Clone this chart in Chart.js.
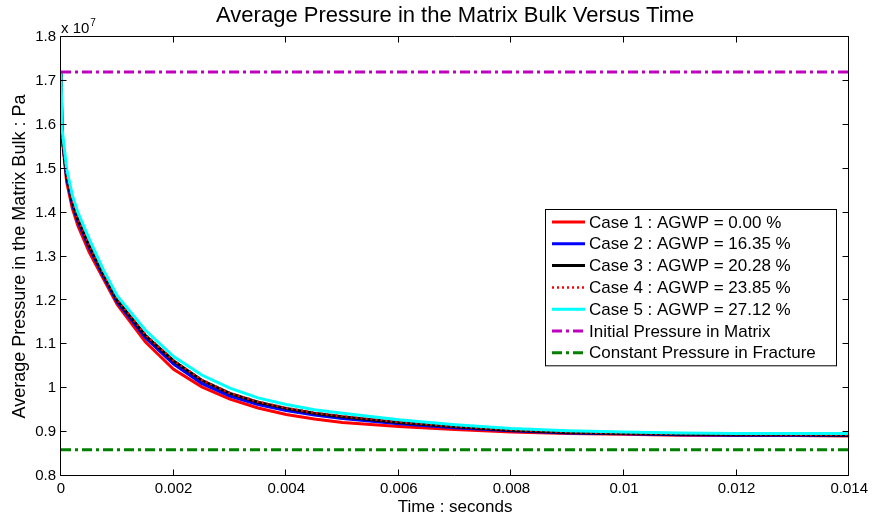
<!DOCTYPE html>
<html>
<head>
<meta charset="utf-8">
<script src="https://cdn.jsdelivr.net/npm/chart.js@4/dist/chart.umd.min.js"></script>
<style>
  html, body { margin: 0; padding: 0; background: #fff; }
  #box { width: 872px; height: 516px; }
</style>
</head>
<body>
<div id="box"><canvas id="grafico"></canvas></div>
<script>
// time in seconds, pressures in units of 10^7 Pa
const time = [0, 0.00002, 0.0001, 0.0002, 0.0003, 0.0005, 0.00075, 0.001, 0.0015, 0.002,
  0.0025, 0.003, 0.0035, 0.004, 0.0045, 0.005, 0.006, 0.007, 0.008, 0.009,
  0.01, 0.011, 0.012, 0.013, 0.014];

const case1 = [1.72, 1.57, 1.47, 1.41, 1.37, 1.31, 1.25, 1.19, 1.105, 1.043,
  1.003, 0.975, 0.955, 0.940, 0.930, 0.922, 0.913, 0.906, 0.900, 0.897,
  0.895, 0.893, 0.892, 0.892, 0.891];
const case2 = [1.72, 1.575, 1.48, 1.42, 1.38, 1.32, 1.256, 1.196, 1.115, 1.055,
  1.011, 0.982, 0.963, 0.949, 0.939, 0.931, 0.919, 0.910, 0.903, 0.898,
  0.896, 0.894, 0.893, 0.893, 0.892];
const case3 = [1.72, 1.575, 1.485, 1.425, 1.385, 1.325, 1.26, 1.20, 1.12, 1.062,
  1.018, 0.988, 0.968, 0.954, 0.943, 0.935, 0.922, 0.912, 0.904, 0.899,
  0.897, 0.895, 0.894, 0.894, 0.893];
const case4 = [1.72, 1.576, 1.487, 1.427, 1.387, 1.327, 1.262, 1.202, 1.122, 1.063,
  1.019, 0.989, 0.969, 0.955, 0.944, 0.936, 0.923, 0.913, 0.905, 0.900,
  0.897, 0.896, 0.895, 0.894, 0.894];
const case5 = [1.72, 1.59, 1.50, 1.44, 1.40, 1.34, 1.27, 1.21, 1.132, 1.072,
  1.03, 1.0, 0.978, 0.963, 0.951, 0.943, 0.928, 0.917, 0.908, 0.903,
  0.900, 0.898, 0.897, 0.897, 0.897];

const initialPressure = 1.72;
const fracturePressure = 0.86;

const labels = [
  "Case 1 : AGWP = 0.00 %",
  "Case 2 : AGWP = 16.35 %",
  "Case 3 : AGWP = 20.28 %",
  "Case 4 : AGWP = 23.85 %",
  "Case 5 : AGWP = 27.12 %",
  "Initial Pressure in Matrix",
  "Constant Pressure in Fracture"
];

const xTicks = [0, 0.002, 0.004, 0.006, 0.008, 0.01, 0.012, 0.014];
const yTicks = [0.8, 0.9, 1.0, 1.1, 1.2, 1.3, 1.4, 1.5, 1.6, 1.7, 1.8];

const FONT = "'Liberation Sans', Arial, Helvetica, sans-serif";
const DASH_DOT = [10, 4, 3, 4];

function serie(values) {
    return time.map((t, i) => ({ x: t, y: values[i] }));
}

function flat(value) {
    return [{ x: xTicks[0], y: value }, { x: xTicks[xTicks.length - 1], y: value }];
}

const styles = [
    { data: serie(case1), color: "#ff0000", width: 3, dash: [] },
    { data: serie(case2), color: "#0000ff", width: 3, dash: [] },
    { data: serie(case3), color: "#000000", width: 3, dash: [] },
    { data: serie(case4), color: "#ff0000", width: 2.5, dash: [2, 3] },
    { data: serie(case5), color: "#00ffff", width: 3, dash: [] },
    { data: flat(initialPressure), color: "#bf00bf", width: 3, dash: DASH_DOT },
    { data: flat(fracturePressure), color: "#008000", width: 3, dash: DASH_DOT }
];

const datasets = styles.map((s, i) => ({
    label: labels[i],
    data: s.data,
    borderColor: s.color,
    backgroundColor: s.color,
    borderWidth: s.width,
    borderDash: s.dash,
    pointRadius: 0,
    tension: 0,
    fill: false,
    order: styles.length - i   // later lines drawn on top
}));

// box around the axes with inward tick marks on all four sides
const frame = {
    id: "frame",
    afterDatasetsDraw(chart) {
        const { ctx, chartArea: a, scales } = chart;
        const L = Math.round(a.left) - 0.5, R = Math.round(a.right) - 0.5;
        const T = Math.round(a.top) - 0.5, B = Math.round(a.bottom) - 0.5;
        ctx.save();
        ctx.strokeStyle = "#000";
        ctx.lineWidth = 1;
        ctx.beginPath();
        ctx.rect(L, T, R - L, B - T);
        xTicks.forEach(v => {
            const px = Math.round(scales.x.getPixelForValue(v)) - 0.5;
            ctx.moveTo(px, B); ctx.lineTo(px, B - 6);
            ctx.moveTo(px, T); ctx.lineTo(px, T + 6);
        });
        yTicks.forEach(v => {
            const py = Math.round(scales.y.getPixelForValue(v)) - 0.5;
            ctx.moveTo(L, py); ctx.lineTo(L + 6, py);
            ctx.moveTo(R, py); ctx.lineTo(R - 6, py);
        });
        ctx.stroke();
        ctx.restore();
    },
    afterDraw(chart) {
        const { ctx, chartArea: a } = chart;
        ctx.save();
        ctx.fillStyle = "#000";

        // title
        ctx.font = "22px " + FONT;
        ctx.textAlign = "center";
        ctx.textBaseline = "middle";
        ctx.fillText("Average Pressure in the Matrix Bulk Versus Time", (a.left + a.right) / 2, 16);

        // axis titles
        ctx.font = "17px " + FONT;
        ctx.fillText("Time : seconds", (a.left + a.right) / 2, 507);
        ctx.save();
        ctx.font = "18px " + FONT;
        ctx.translate(20, (a.top + a.bottom) / 2);
        ctx.rotate(-Math.PI / 2);
        ctx.fillText("Average Pressure in the Matrix Bulk : Pa", 0, 0);
        ctx.restore();

        // exponent of the y axis
        ctx.textAlign = "left";
        ctx.textBaseline = "alphabetic";
        ctx.font = "15px " + FONT;
        ctx.fillText("x 10", a.left, 33);
        const w = ctx.measureText("x 10").width;
        ctx.font = "10px " + FONT;
        ctx.fillText("7", a.left + w + 1, 26);

        // legend
        const boxL = 545.5, boxR = 836.5, boxT = 209.5, row = 21.8;
        const boxB = boxT + 12.5 + row * (labels.length - 1) + 13;
        ctx.fillStyle = "#fff";
        ctx.fillRect(boxL, boxT, boxR - boxL, boxB - boxT);
        ctx.strokeStyle = "#000";
        ctx.lineWidth = 1;
        ctx.strokeRect(boxL, boxT, boxR - boxL, boxB - boxT);
        ctx.font = "17px " + FONT;
        ctx.textBaseline = "middle";
        chart.data.datasets.forEach((ds, i) => {
            const y = boxT + 12.5 + row * i;
            ctx.strokeStyle = ds.borderColor;
            ctx.lineWidth = ds.borderWidth;
            ctx.setLineDash(ds.borderDash);
            ctx.beginPath();
            ctx.moveTo(552, y);
            ctx.lineTo(585, y);
            ctx.stroke();
            ctx.setLineDash([]);
            ctx.fillStyle = "#000";
            ctx.fillText(ds.label, 589, y + 1);
        });
        ctx.restore();
    }
};

Chart.defaults.font.family = FONT;
Chart.defaults.color = "#000";

new Chart(document.getElementById("grafico"), {
    type: "line",
    data: { datasets },
    options: {
        responsive: true,
        maintainAspectRatio: false,
        animation: false,
        events: [],
        layout: { padding: { top: 37, right: 21, left: 0, bottom: 0 } },
        plugins: { legend: { display: false }, tooltip: { enabled: false } },
        scales: {
            x: {
                type: "linear",
                min: 0,
                max: 0.014,
                grid: { display: false, drawTicks: false },
                border: { display: false },
                afterBuildTicks: axis => { axis.ticks = xTicks.map(v => ({ value: v })); },
                afterFit: axis => { axis.height = 40; },
                ticks: {
                    padding: 4,
                    maxRotation: 0,
                    autoSkip: false,
                    font: { size: 15 },
                    callback: v => String(Number(v.toFixed(3)))
                }
            },
            y: {
                type: "linear",
                min: 0.8,
                max: 1.8,
                grid: { display: false, drawTicks: false },
                border: { display: false },
                afterBuildTicks: axis => { axis.ticks = yTicks.map(v => ({ value: v })); },
                afterFit: axis => { axis.width = 61; },
                ticks: {
                    padding: 5,
                    autoSkip: false,
                    font: { size: 15 },
                    callback: v => String(Number(v.toFixed(1)))
                }
            }
        }
    },
    plugins: [frame]
});
</script>
</body>
</html>
